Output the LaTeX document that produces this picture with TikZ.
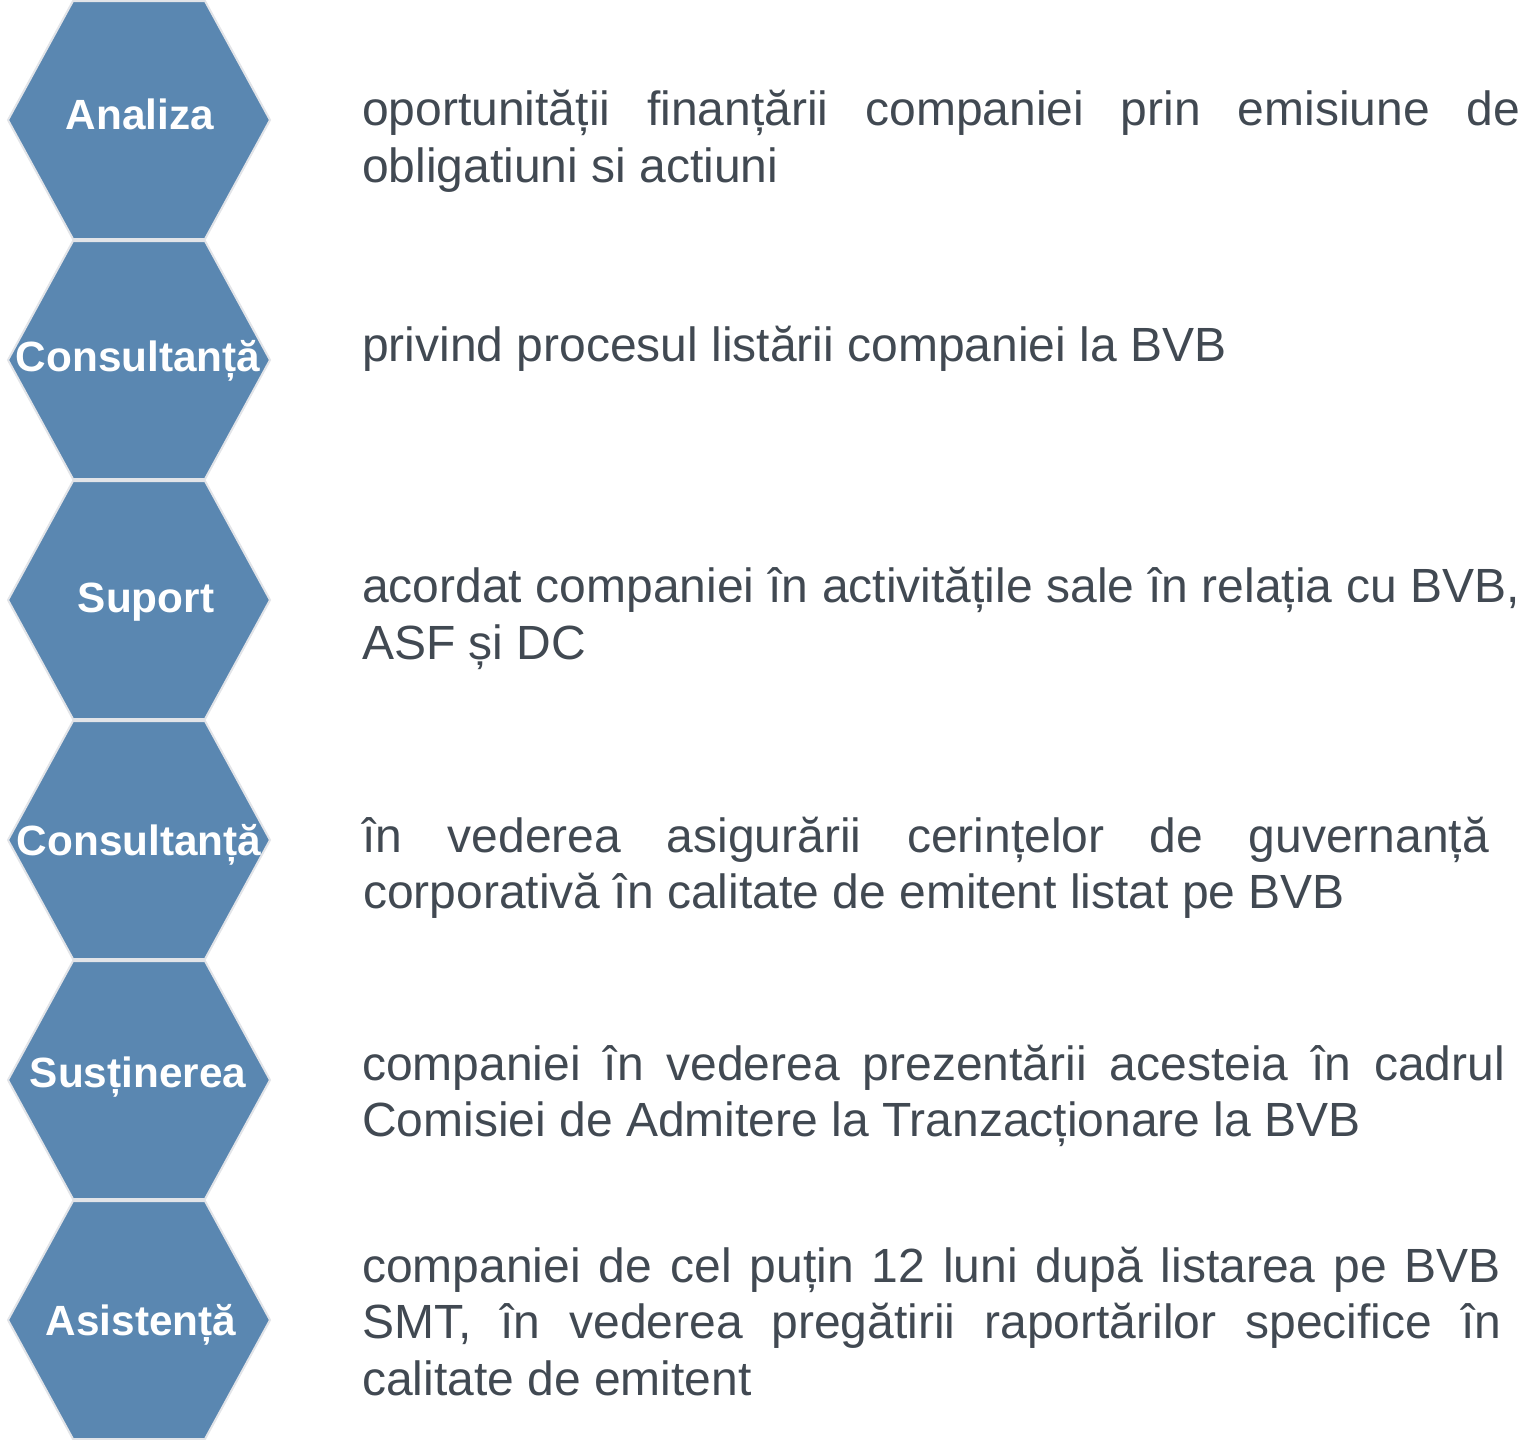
\documentclass[tikz,border=0pt]{standalone}
\usepackage{fontspec}
\setmainfont{Liberation Sans}
\definecolor{hexfill}{HTML}{5A87B1}
\definecolor{hexline}{HTML}{E2E4E8}
\definecolor{txt}{HTML}{414952}
\tikzset{
  hexshape/.style={fill=hexfill, draw=hexline, line width=2pt, line join=miter},
  hexlabel/.style={text=white, font=\fontsize{42.3}{48}\selectfont\bfseries, inner sep=0pt, anchor=base},
  bodytext/.style={text=txt, font=\fontsize{48}{57}\selectfont, inner sep=0pt, anchor=base west}
}
\begin{document}
\begin{tikzpicture}[x=1pt,y=-1pt]
\useasboundingbox (0,0) rectangle (1529,1440);
\foreach \cy in {120,360,600,840,1080,1320}{
  \draw[hexshape] (73,\cy-119) -- (205,\cy-119) -- (270,\cy) -- (205,\cy+119) -- (73,\cy+119) -- (8,\cy) -- cycle;
}
\node[hexlabel] (h1) at (140,129) {Analiza};
\node[hexlabel] (h2) at (138,371) {Consultanță};
\node[hexlabel] (h3) at (146,612) {Suport};
\node[hexlabel] (h4) at (139,855) {Consultanță};
\node[hexlabel] (h5) at (138,1087) {Susținerea};
\node[hexlabel] (h6) at (141,1335) {Asistență};

\node[bodytext] (t1a) at (362,125) {\makebox[1158pt][s]{oportunității finanțării companiei prin emisiune de}};
\node[bodytext] (t1b) at (362,182) {obligatiuni si actiuni};

\node[bodytext] (t2) at (362,361) {privind procesul listării companiei la BVB};

\node[bodytext] (t3a) at (362,602) {\makebox[1158pt][s]{acordat companiei în activitățile sale în relația cu BVB,}};
\node[bodytext] (t3b) at (362,659) {ASF și DC};

\node[bodytext] (t4a) at (362,852) {\makebox[1127pt][s]{în vederea asigurării cerințelor de guvernanță}};
\node[bodytext] (t4b) at (363,908) {corporativă în calitate de emitent listat pe BVB};

\node[bodytext] (t5a) at (362,1080) {\makebox[1143pt][s]{companiei în vederea prezentării acesteia în cadrul}};
\node[bodytext] (t5b) at (362,1136) {Comisiei de Admitere la Tranzacționare la BVB};

\node[bodytext] (t6a) at (362,1282) {\makebox[1139pt][s]{companiei de cel puțin 12 luni după listarea pe BVB}};
\node[bodytext] (t6b) at (362,1338) {\makebox[1139pt][s]{SMT, în vederea pregătirii raportărilor specifice în}};
\node[bodytext] (t6c) at (362,1395) {calitate de emitent};
\end{tikzpicture}
\end{document}
